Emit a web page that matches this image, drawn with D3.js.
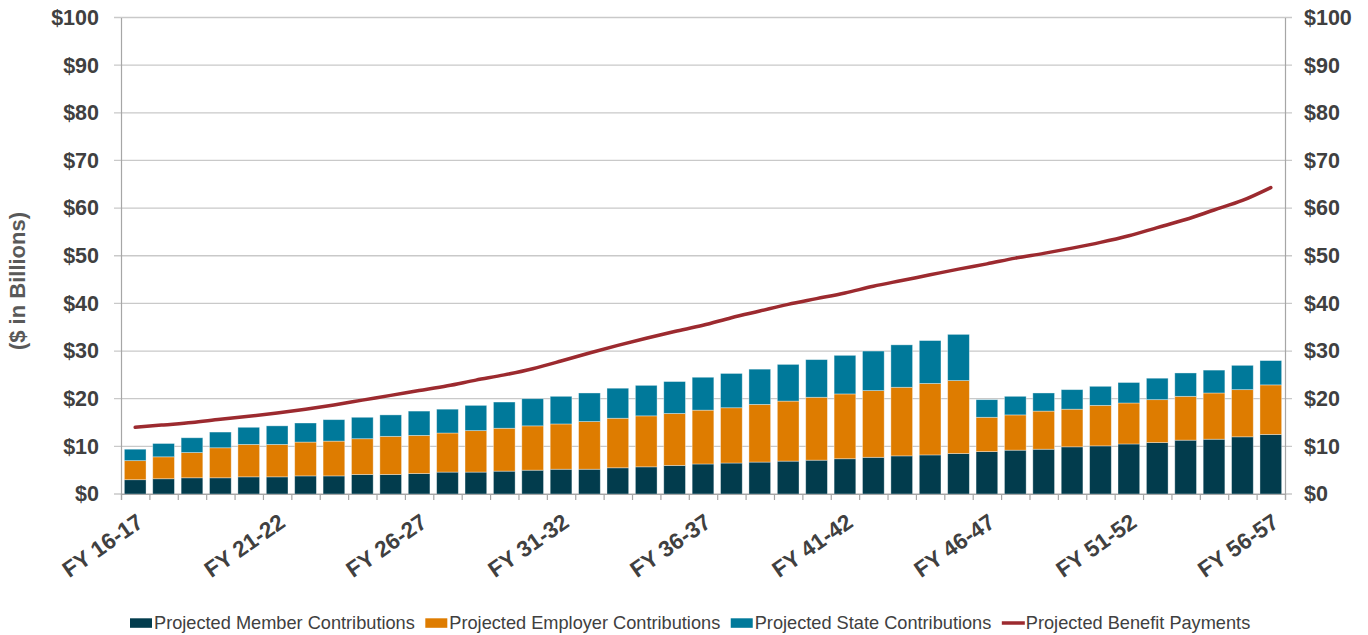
<!DOCTYPE html>
<html>
<head>
<meta charset="utf-8">
<script src="https://cdn.jsdelivr.net/npm/d3@7"></script>
<style>
  body { margin: 0; background: #fff; }
  svg { display: block; font-family: "Liberation Sans", Arial, sans-serif; }
</style>
</head>
<body>
<div class="chart"></div>
<script>
const categories = ['FY 16-17','FY 17-18','FY 18-19','FY 19-20','FY 20-21','FY 21-22','FY 22-23','FY 23-24',
  'FY 24-25','FY 25-26','FY 26-27','FY 27-28','FY 28-29','FY 29-30','FY 30-31','FY 31-32','FY 32-33',
  'FY 33-34','FY 34-35','FY 35-36','FY 36-37','FY 37-38','FY 38-39','FY 39-40','FY 40-41','FY 41-42',
  'FY 42-43','FY 43-44','FY 44-45','FY 45-46','FY 46-47','FY 47-48','FY 48-49','FY 49-50','FY 50-51',
  'FY 51-52','FY 52-53','FY 53-54','FY 54-55','FY 55-56','FY 56-57'];
const labelEvery = ['FY 16-17','FY 21-22','FY 26-27','FY 31-32','FY 36-37','FY 41-42','FY 46-47','FY 51-52','FY 56-57'];

const member = [3.0,3.2,3.4,3.4,3.6,3.6,3.8,3.8,4.1,4.1,4.3,4.6,4.6,4.8,5.0,
  5.2,5.2,5.5,5.7,6.0,6.3,6.5,6.7,6.9,7.1,7.4,7.7,8.0,8.2,8.5,
  8.9,9.2,9.4,9.9,10.1,10.5,10.8,11.3,11.5,12.0,12.5];
const employer = [4.0,4.6,5.3,6.3,6.8,6.8,7.1,7.3,7.5,8.0,8.0,8.2,8.7,9.0,9.3,
  9.5,10.0,10.4,10.7,10.9,11.3,11.6,12.1,12.6,13.2,13.6,14.0,14.4,15.0,15.3,
  7.2,7.4,8.0,7.9,8.5,8.6,9.0,9.2,9.7,9.9,10.4];
const state = [2.4,2.8,3.1,3.3,3.6,3.9,4.0,4.5,4.5,4.5,5.1,5.0,5.3,5.5,5.7,
  5.8,6.0,6.3,6.4,6.7,6.9,7.2,7.4,7.7,7.9,8.1,8.3,8.9,9.0,9.7,
  3.7,3.9,3.8,4.1,4.0,4.3,4.5,4.9,4.8,5.1,5.1];
const benefit = [14.0,14.5,15.0,15.7,16.3,17.0,17.8,18.7,19.7,20.7,21.7,22.7,23.9,25.0,26.3,
  27.9,29.6,31.2,32.7,34.1,35.4,37.0,38.4,39.8,41.0,42.2,43.6,44.8,46.0,47.2,
  48.3,49.5,50.5,51.6,52.8,54.2,55.9,57.6,59.6,61.6,64.3];
const yTicks = [0,10,20,30,40,50,60,70,80,90,100];

const seriesNames = ['Projected Member Contributions','Projected Employer Contributions','Projected State Contributions'];
const legendNames = [...seriesNames, 'Projected Benefit Payments'];
const colors = ['#023c4d','#de7c00','#00799a'];
const lineColor = '#9c2a2f';

const width = 1368, height = 635;
const margin = {top: 17.5, right: 83, bottom: 141, left: 121};
const innerW = width - margin.left - margin.right;
const innerH = height - margin.top - margin.bottom;

const svg = d3.select('.chart').append('svg')
  .attr('width', width)
  .attr('height', height);

const g = svg.append('g')
  .attr('transform', `translate(${margin.left},${margin.top})`);

const x = d3.scaleBand()
  .domain(categories)
  .range([0, innerW])
  .paddingInner(0.236)
  .paddingOuter(0.118);

const xEdge = d3.scaleLinear().domain([0, categories.length]).range([0, innerW]);

const y = d3.scaleLinear().domain([0, 100]).range([innerH, 0]);

// gridlines
g.append('g').selectAll('line')
  .data(yTicks)
  .enter().append('line')
  .attr('x1', -7).attr('x2', innerW + 7)
  .attr('y1', d => y(d)).attr('y2', d => y(d))
  .attr('stroke', '#c9c9c9')
  .attr('stroke-width', 1.3);

// stacked bars
const table = categories.map((c, i) => ({cat: c, m: member[i], e: employer[i], s: state[i]}));
const stack = d3.stack().keys(['m','e','s'])(table);

g.append('g').selectAll('g')
  .data(stack)
  .enter().append('g')
  .attr('fill', (d, i) => colors[i])
  .selectAll('rect')
  .data(d => d)
  .enter().append('rect')
  .attr('x', d => x(d.data.cat))
  .attr('width', x.bandwidth())
  .attr('y', d => y(d[1]))
  .attr('height', d => y(d[0]) - y(d[1]))
  .attr('stroke', '#ffffff')
  .attr('stroke-opacity', 0.45)
  .attr('stroke-width', 0.8);

// axes
const leftAxis = g.append('g')
  .call(d3.axisLeft(y).tickValues(yTicks).tickSize(0).tickPadding(22).tickFormat(d => '$' + d));
const rightAxis = g.append('g')
  .attr('transform', `translate(${innerW},0)`)
  .call(d3.axisRight(y).tickValues(yTicks).tickSize(0).tickPadding(19).tickFormat(d => '$' + d));
[leftAxis, rightAxis].forEach(a => {
  a.select('.domain').attr('stroke', '#a6a6a6').attr('stroke-width', 1.2);
  a.selectAll('text')
    .attr('fill', '#404040')
    .style('font-size', '21.5px')
    .style('font-weight', 'bold')
    .style('font-family', '"Liberation Sans", Arial, sans-serif');
});

const bottomAxis = g.append('g')
  .attr('transform', `translate(0,${innerH})`)
  .call(d3.axisBottom(xEdge).tickValues(d3.range(categories.length + 1)).tickSize(6).tickFormat(''));
bottomAxis.select('.domain').attr('stroke', '#a6a6a6').attr('stroke-width', 1.2);
bottomAxis.selectAll('.tick line').attr('stroke', '#a6a6a6').attr('stroke-width', 1.2);

// category labels
g.append('g').selectAll('text')
  .data(labelEvery)
  .enter().append('text')
  .attr('transform', d => `translate(${x(d) + x.bandwidth() / 2 + 5},${innerH + 25}) rotate(-35)`)
  .attr('text-anchor', 'end')
  .attr('dy', '0.35em')
  .attr('fill', '#404040')
  .style('font-size', '22.5px')
  .style('font-weight', 'bold')
  .text(d => d);

// benefit payments line
const line = d3.line()
  .x((d, i) => x(categories[i]) + x.bandwidth() / 2)
  .y(d => y(d))
  .curve(d3.curveMonotoneX);

g.append('path')
  .datum(benefit)
  .attr('d', line)
  .attr('fill', 'none')
  .attr('stroke', lineColor)
  .attr('stroke-width', 3.5)
  .attr('stroke-linecap', 'round');

// y title
svg.append('text')
  .attr('transform', 'translate(17,281) rotate(-90)')
  .attr('text-anchor', 'middle')
  .attr('dy', '0.35em')
  .attr('fill', '#595959')
  .style('font-size', '22px')
  .style('font-weight', 'bold')
  .text('($ in Billions)');

// legend
const legend = svg.append('g').attr('transform', 'translate(0,623)');
let lx = 130;
legendNames.forEach((name, i) => {
  const item = legend.append('g').attr('transform', `translate(${lx},0)`);
  if (i < 3) {
    item.append('rect')
      .attr('x', 0).attr('y', -4.7)
      .attr('width', 22).attr('height', 9.5)
      .attr('fill', colors[i]);
  } else {
    item.append('line')
      .attr('x1', 0).attr('x2', 23)
      .attr('y1', 0).attr('y2', 0)
      .attr('stroke', lineColor)
      .attr('stroke-width', 3.5);
  }
  const t = item.append('text')
    .attr('x', 24)
    .attr('dy', '0.35em')
    .attr('fill', '#404040')
    .style('font-size', '18.2px')
    .text(name);
  lx += 24 + t.node().getComputedTextLength() + 10.5;
});
</script>
</body>
</html>
